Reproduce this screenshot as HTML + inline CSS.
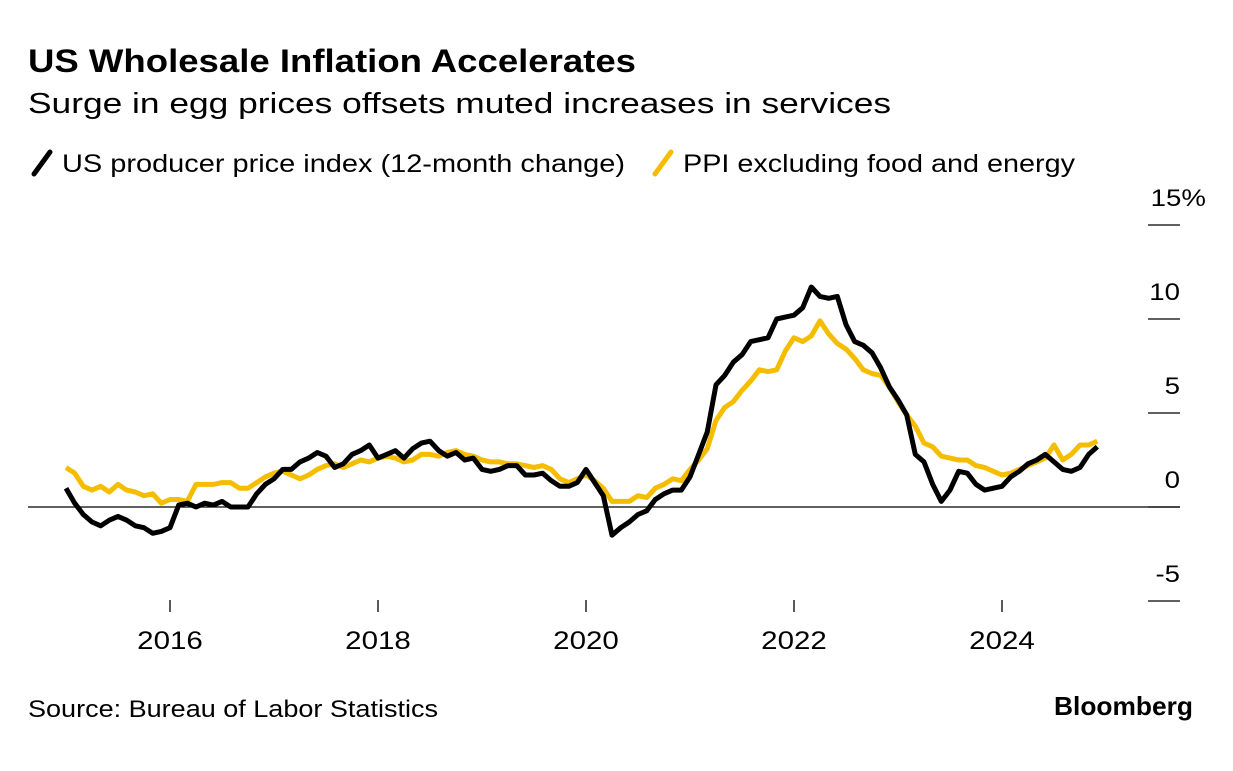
<!DOCTYPE html>
<html><head><meta charset="utf-8"><style>
body{margin:0;background:#fff;font-family:"Liberation Sans",Arial,sans-serif;}
svg text{font-family:"Liberation Sans",Arial,sans-serif;}
</style></head><body>
<svg id="c" width="1233" height="766">
<text x="28" y="72" font-size="32" font-weight="bold" fill="#000" textLength="608" lengthAdjust="spacingAndGlyphs">US Wholesale Inflation Accelerates</text>
<text x="28" y="113" font-size="29" fill="#000" textLength="863" lengthAdjust="spacingAndGlyphs">Surge in egg prices offsets muted increases in services</text>
<g>
<line x1="34" y1="174" x2="50" y2="152" stroke="#000" stroke-width="5" stroke-linecap="round"/>
<text x="62" y="172" font-size="25" textLength="563" lengthAdjust="spacingAndGlyphs">US producer price index (12-month change)</text>
<line x1="655" y1="174" x2="671" y2="152" stroke="#f5bd00" stroke-width="5" stroke-linecap="round"/>
<text x="683" y="172" font-size="25" textLength="392" lengthAdjust="spacingAndGlyphs">PPI excluding food and energy</text>
</g>
<g id="axes"></g>
<g id="series"></g>
<text x="28" y="717" font-size="24" textLength="410" lengthAdjust="spacingAndGlyphs">Source: Bureau of Labor Statistics</text>
<text x="1054" y="715" font-size="26" font-weight="bold" textLength="139" lengthAdjust="spacingAndGlyphs">Bloomberg</text>
</svg>
<script>
const yTicks=[15,10,5,0,-5];
const yLabels=["15%","10","5","0","-5"];
const xYears=[2016,2018,2020,2022,2024];
const ppi=[1.0,0.2,-0.4,-0.8,-1.0,-0.7,-0.5,-0.7,-1.0,-1.1,-1.4,-1.3,
-1.1,0.1,0.2,0.0,0.2,0.1,0.3,0.0,0.0,0.0,0.7,1.2,
1.5,2.0,2.0,2.4,2.6,2.9,2.7,2.1,2.3,2.8,3.0,3.3,
2.6,2.8,3.0,2.6,3.1,3.4,3.5,3.0,2.7,2.9,2.5,2.6,
2.0,1.9,2.0,2.2,2.2,1.7,1.7,1.8,1.4,1.1,1.1,1.3,
2.0,1.3,0.6,-1.5,-1.1,-0.8,-0.4,-0.2,0.4,0.7,0.9,0.9,
1.6,2.8,4.0,6.5,7.0,7.7,8.1,8.8,8.9,9.0,10.0,10.1,
10.2,10.6,11.7,11.2,11.1,11.2,9.7,8.8,8.6,8.2,7.4,6.4,
5.7,4.9,2.8,2.4,1.2,0.3,0.9,1.9,1.8,1.2,0.9,1.0,
1.1,1.6,1.9,2.3,2.5,2.8,2.4,2.0,1.9,2.1,2.8,3.2];
const core=[2.1,1.8,1.1,0.9,1.1,0.8,1.2,0.9,0.8,0.6,0.7,0.2,
0.4,0.4,0.3,1.2,1.2,1.2,1.3,1.3,1.0,1.0,1.3,1.6,
1.8,1.9,1.7,1.5,1.7,2.0,2.2,2.3,2.1,2.3,2.5,2.4,
2.6,2.7,2.6,2.4,2.5,2.8,2.8,2.7,2.9,3.0,2.8,2.7,
2.5,2.4,2.4,2.3,2.3,2.2,2.1,2.2,2.0,1.5,1.3,1.5,
1.7,1.4,1.0,0.3,0.3,0.3,0.6,0.5,1.0,1.2,1.5,1.4,
2.0,2.5,3.1,4.6,5.3,5.6,6.2,6.7,7.3,7.2,7.3,8.3,
9.0,8.8,9.1,9.9,9.2,8.7,8.4,7.9,7.3,7.1,7.0,6.4,
5.6,4.9,4.3,3.4,3.2,2.7,2.6,2.5,2.5,2.2,2.1,1.9,
1.7,1.8,2.0,2.2,2.4,2.6,3.3,2.5,2.8,3.3,3.3,3.5];
const NS="http://www.w3.org/2000/svg";
const yS=v=>507-v*18.8;
const xS=m=>66+m*104/12;
const xY=yr=>xS((yr-2015)*12);
const ax=document.getElementById('axes');
function mk(tag,attrs,parent){const e=document.createElementNS(NS,tag);for(const k in attrs)e.setAttribute(k,attrs[k]);parent.appendChild(e);return e;}
function widen(t,k){try{const w=t.getComputedTextLength();t.setAttribute('textLength',(w*k).toFixed(1));t.setAttribute('lengthAdjust','spacingAndGlyphs');}catch(e){}}
yTicks.forEach((v,i)=>{
  const l=mk('line',{x1:1148,x2:1180,y1:yS(v),y2:yS(v),stroke:'#000','stroke-width':1.3},ax);
  
  
  const t=mk('text',{x:1180,y:yS(v)-19,'font-size':24,'text-anchor':'end'},ax);
  t.textContent=yLabels[i];
  
  
  if(yLabels[i].endsWith('%')){t.setAttribute('x',1206);}
  widen(t,1.15);
});
const z=mk('line',{x1:28,x2:1180,y1:yS(0),y2:yS(0),stroke:'#000','stroke-width':1.3},ax);


xYears.forEach(yr=>{
  const l=mk('line',{x1:xY(yr),x2:xY(yr),y1:600,y2:612,stroke:'#000','stroke-width':1.3},ax);
  
  
  const t=mk('text',{x:xY(yr),y:649,'font-size':25,'text-anchor':'middle'},ax);
  t.textContent=yr;
  
  
  widen(t,1.18);
});
const sg=document.getElementById('series');
function line(arr,color,name){
  const d=arr.map((v,i)=>(i?'L':'M')+xS(i).toFixed(1)+','+yS(v).toFixed(1)).join('');
  const p=mk('path',{d:d,fill:'none',stroke:color,'stroke-width':5,'stroke-linejoin':'round'},sg);
  
  
}
line(core,'#f5bd00','line-ppi-core');
line(ppi,'#000','line-ppi');
</script>
</body></html>
